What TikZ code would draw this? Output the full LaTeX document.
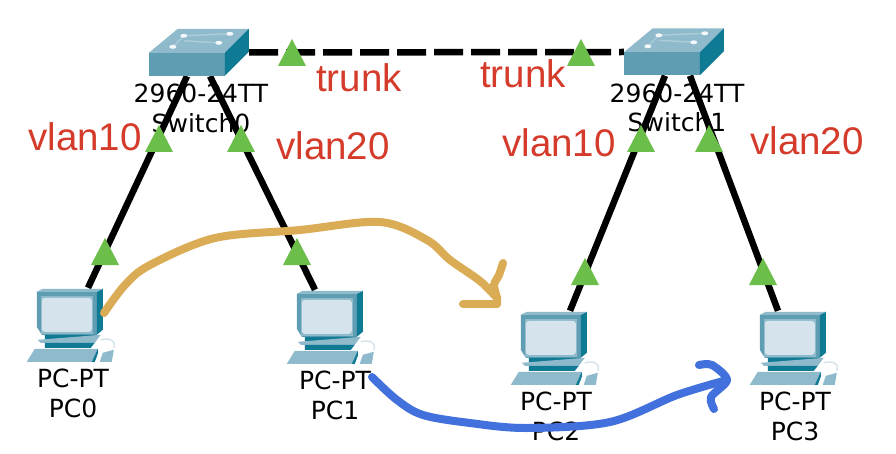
\documentclass[tikz,border=0pt]{standalone}
\usepackage{fontspec}
\setmainfont{Liberation Sans}
\newfontfamily\devfont{DejaVu Sans}
\usetikzlibrary{positioning}

\definecolor{tealmid}{HTML}{5F9DB3}
\definecolor{tealdark}{HTML}{0F7A94}
\definecolor{teallight}{HTML}{8FBACB}
\definecolor{screenblue}{HTML}{D5E4EC}
\definecolor{notered}{HTML}{D43B2A}
\definecolor{upgreen}{HTML}{6CBE4A}
\definecolor{penyellow}{HTML}{D9AC55}
\definecolor{penblue}{HTML}{4270DC}

\tikzset{
  pics/pcicon/.style={code={
    \fill[tealmid] (10,4) -- (70,4) -- (70,47) -- (15,47) -- (10,39) -- cycle;
    \fill[tealdark] (70,4) -- (76,1) -- (76,42) -- (70,47) -- cycle;
    \fill[teallight] (10,4) -- (70,4) -- (76,1) -- (16,1) -- cycle;
    \fill[teallight] (14,8) rectangle (66,46);
    \fill[screenblue, rounded corners=3pt] (15,10) rectangle (65,44);
    \fill[tealdark] (18,47) -- (70,47) -- (66,52) -- (18,52) -- cycle;
    \fill[teallight] (11,52) -- (74,47) -- (68,55) -- (14,55) -- cycle;
    \fill[tealdark] (18,55) -- (68,55) -- (64,60) -- (18,60) -- cycle;
    \fill[teallight] (0,74) -- (8,61) -- (71,61) -- (65,74) -- cycle;
    \fill[tealdark] (65,74) -- (71,61) -- (71,66) -- (68,74) -- cycle;
    \draw[screenblue, line width=1.5pt] (74,52) .. controls (82,50) and (90,52) .. (87,60);
    \fill[teallight] (73,74) -- (76,65) -- (87,62) -- (85,74) -- cycle;
  }},
  pics/switchicon/.style={code={
    \fill[teallight] (0,24) -- (29,0) -- (100,0) -- (76,24) -- cycle;
    \fill[tealmid] (0,24) rectangle (76,47);
    \fill[tealdark] (76,24) -- (100,0) -- (100,23) -- (76,47) -- cycle;
    \draw[teallight!75!white, line width=1.5pt] (24,18) -- (35,7) -- (81,5) (35,12) -- (70,14);
    \foreach \dx/\dy in {35/7,81/5,24/18,70/14}
      \fill[white!90!teallight] (\dx,\dy) ellipse (3.5pt and 2pt);
  }},
  pics/upmark/.style={code={
    \fill[upgreen] (0,0) -- (14,27) -- (-14,27) -- cycle;
  }}
}

\begin{document}
\begin{tikzpicture}[x=1pt,y=-1pt,
  swbox/.style={minimum width=100pt,minimum height=47pt,inner sep=0pt},
  pcbox/.style={minimum width=90pt,minimum height=75pt,inner sep=0pt},
  link/.style={draw=black,line width=6.5pt},
  devtext/.style={font=\devfont\fontsize{25}{29.5}\selectfont,align=center,inner sep=0pt,text=black},
  note/.style={font=\fontsize{38.5}{40}\selectfont,text=notered,inner sep=0pt},
  penstroke/.style={line width=8pt,line cap=round,line join=round}]

  \useasboundingbox (0,0) rectangle (896,454);
  \fill[white] (0,0) rectangle (896,454);

  \node[swbox] (sw0) at (199,52.5) {};
  \node[swbox] (sw1) at (674,52) {};
  \node[pcbox] (pc0) at (72,325.5) {};
  \node[pcbox] (pc1) at (332,327.5) {};
  \node[pcbox] (pc2) at (556,348.5) {};
  \node[pcbox] (pc3) at (795,348.5) {};

  % links
  \draw[link,dash pattern=on 29pt off 8pt] (sw0.east) -- (sw1.west);
  \draw[link] ([xshift=-12pt]sw0.south) -- ([xshift=16pt]pc0.north);
  \draw[link] ([xshift=11pt]sw0.south) -- ([xshift=-17pt]pc1.north);
  \draw[link] ([xshift=-9pt]sw1.south) -- ([xshift=14pt]pc2.north);
  \draw[link] ([xshift=16pt]sw1.south) -- ([xshift=-17pt]pc3.north);

  \foreach \n in {sw0,sw1}
    \pic at (\n.north west) {switchicon};
  \foreach \n in {pc0,pc1,pc2,pc3}
    \pic at (\n.north west) {pcicon};

  \node[devtext,below=8pt of sw0,xshift=2pt] (sw0text) {2960-24TT\\Switch0};
  \node[devtext,below=8pt of sw1,xshift=3pt] (sw1text) {2960-24TT\\Switch1};
  \node[devtext,below=6pt of pc0,xshift=1pt] (pc0text) {PC-PT\\PC0};
  \node[devtext,below=6pt of pc1,xshift=3pt] (pc1text) {PC-PT\\PC1};
  \node[devtext,below=6pt of pc2] (pc2text) {PC-PT\\PC2};
  \node[devtext,below=6pt of pc3] (pc3text) {PC-PT\\PC3};

  \foreach \x/\y in {292/39,581/39,159/125,241/125,105/238,297/238,641/125,709/125,585/258,763/258}
    \pic at (\x,\y) {upmark};

  \node[note] (trunk0) at (359,78) {trunk};
  \node[note] (trunk1) at (523,74) {trunk};
  \node[note] (vlan0a) at (85,137) {vlan10};
  \node[note] (vlan0b) at (333,146) {vlan20};
  \node[note] (vlan1a) at (559,143) {vlan10};
  \node[note] (vlan1b) at (807,141) {vlan20};

  % hand drawn strokes
  \coordinate (goldstart) at (104,313);
  \coordinate (goldend) at (497,298);
  \coordinate (bluestart) at (372,377);
  \coordinate (blueend) at (727,380);
  \draw[penstroke,penyellow] plot[smooth,tension=.55] coordinates
    {(goldstart) (125,285) (150,265) (215,238) (300,230) (380,222) (427,240) (450,260) (480,281) (goldend)};
  \draw[penstroke,penyellow] plot[smooth,tension=.5] coordinates
    {(503,263) (499,275) (494,285) (goldend) (497,304)};
  \draw[penstroke,penyellow] (497,304) -- (463,304);
  \draw[penstroke,penblue] plot[smooth,tension=.55] coordinates
    {(bluestart) (397,400) (423,415) (470,423) (527,428) (610,422) (677,395) (blueend)};
  \draw[penstroke,penblue] plot[smooth,tension=.5] coordinates
    {(699,365) (712,365) (blueend) (711,397) (714,409)};
\end{tikzpicture}
\end{document}
